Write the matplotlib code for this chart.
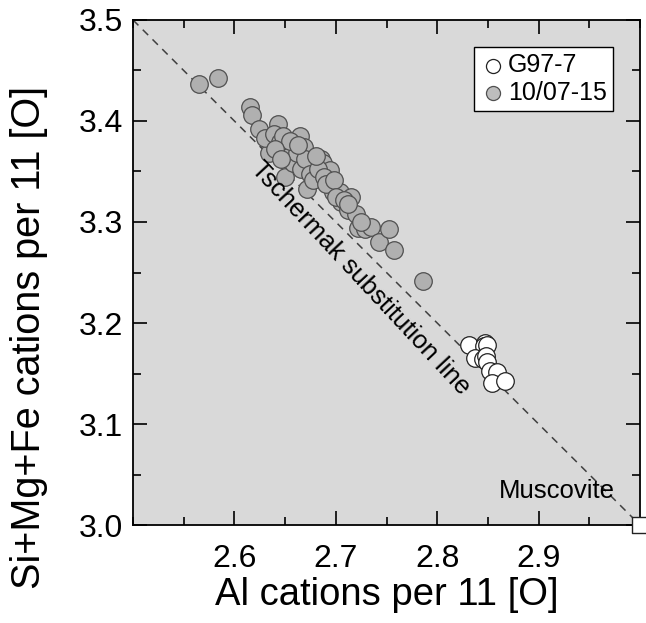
import matplotlib
matplotlib.use("Agg")
import matplotlib.pyplot as plt
from matplotlib.ticker import MultipleLocator

plt.rcParams['font.family'] = ['Liberation Sans', 'DejaVu Sans']

g97_al = [2.831, 2.847, 2.846, 2.849, 2.837, 2.845, 2.848, 2.849, 2.852, 2.859, 2.854, 2.867]
g97_si = [3.178, 3.180, 3.177, 3.178, 3.165, 3.164, 3.167, 3.161, 3.152, 3.151, 3.141, 3.143]

s10_al = [2.565, 2.584, 2.615, 2.617, 2.624, 2.643, 2.634, 2.630, 2.639, 2.645,
          2.650, 2.665, 2.669, 2.660, 2.672, 2.677, 2.685, 2.687, 2.694, 2.694,
          2.697, 2.704, 2.705, 2.712, 2.715, 2.720, 2.722, 2.729, 2.735, 2.743,
          2.752, 2.757, 2.786, 2.652, 2.655, 2.658, 2.662, 2.666, 2.670, 2.675,
          2.678, 2.682, 2.688, 2.690, 2.698, 2.700, 2.708, 2.648, 2.655, 2.663,
          2.640, 2.646, 2.712, 2.725, 2.680]
s10_si = [3.437, 3.443, 3.414, 3.406, 3.392, 3.397, 3.368, 3.383, 3.387, 3.379,
          3.345, 3.385, 3.374, 3.364, 3.333, 3.359, 3.362, 3.358, 3.351, 3.340,
          3.330, 3.330, 3.320, 3.312, 3.325, 3.308, 3.294, 3.293, 3.295, 3.280,
          3.293, 3.272, 3.242, 3.372, 3.365, 3.358, 3.368, 3.352, 3.362, 3.348,
          3.342, 3.352, 3.345, 3.338, 3.342, 3.325, 3.322, 3.385, 3.380, 3.376,
          3.372, 3.362, 3.318, 3.300, 3.365]

line_al = [2.5, 3.0]
line_si = [3.5, 3.0]
musc_al = [3.0]
musc_si = [3.0]

fig = plt.figure(figsize=(6.46, 6.23), dpi=100)
ax = fig.add_axes([0.2059, 0.1573, 0.7848, 0.8106])
ax.set_facecolor('#d9d9d9')

ax.plot(line_al, line_si, ls=(0, (5, 4)), color='#404040', lw=1.1, zorder=1)
ax.scatter(s10_al, s10_si, s=160, facecolor='#b0b0b0', edgecolor='#505050', linewidths=0.9,
           zorder=3, label='10/07-15')
ax.scatter(g97_al, g97_si, s=160, facecolor='white', edgecolor='#222222', linewidths=0.9,
           zorder=4, label='G97-7')
ax.scatter(musc_al, musc_si, s=130, marker='s', facecolor='white', edgecolor='#222222',
           linewidths=1.0, zorder=5, clip_on=False)

ax.text(2.975, 3.027, 'Muscovite', ha='right', va='baseline', fontsize=18.5)
ax.text(2.7245, 3.2446, 'Tschermak substitution line', rotation=-47, rotation_mode='anchor',
        ha='center', va='center', fontsize=18.5)

ax.set_xlim(2.5, 3.0)
ax.set_ylim(3.0, 3.5)
ax.xaxis.set_minor_locator(MultipleLocator(0.05))
ax.yaxis.set_minor_locator(MultipleLocator(0.05))
ax.set_xticks([2.6, 2.7, 2.8, 2.9])
ax.set_xticklabels(['2.6', '2.7', '2.8', '2.9'])
ax.set_yticks([3.0, 3.1, 3.2, 3.3, 3.4, 3.5])
ax.set_yticklabels(['3.0', '3.1', '3.2', '3.3', '3.4', '3.5'])
ax.tick_params(which='both', direction='in', top=True, right=True, width=1.2, labelsize=23)
ax.tick_params(axis='y', pad=7)
ax.tick_params(axis='x', pad=14)
ax.tick_params(which='major', length=10)
ax.tick_params(which='minor', length=6)
for sp in ax.spines.values():
    sp.set_linewidth(1.3)

ax.set_xlabel('Al cations per 11 [O]', fontsize=27.5, labelpad=2)
ax.set_ylabel('Si+Mg+Fe cations per 11 [O]', fontsize=28.5)
ax.yaxis.set_label_coords(-0.168, 0.372)

leg = ax.legend(handles=[ax.collections[1], ax.collections[0]], labels=['G97-7', '10/07-15'],
                loc='upper right', bbox_to_anchor=(0.947, 0.9465), fontsize=18, frameon=True,
                fancybox=False, edgecolor='black', facecolor='white', framealpha=1,
                handletextpad=0.1, borderpad=0.25, labelspacing=0.15, handlelength=1.0,
                markerscale=0.8, borderaxespad=0)
leg.get_frame().set_linewidth(1.0)
leg.legend_handles[1].set_facecolor('#bdbdbd')

fig.savefig('out.png', dpi=100)
